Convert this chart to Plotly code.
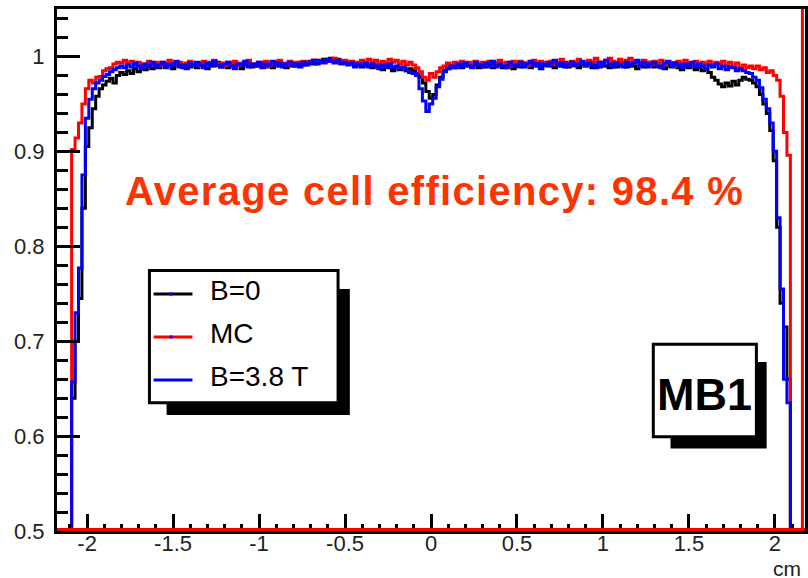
import numpy as np
import plotly.graph_objects as go

# Cell efficiency vs. distance from the wire (cm), 0.02 cm bins starting at -2.09 cm
BIN_LO = -2.09
BIN_W = 0.02

# B = 0 data
eff_b0 = [
    0.640, 0.700, 0.745, 0.840, 0.905, 0.925, 0.945, 0.958, 0.966, 0.970,
    0.974, 0.977, 0.972, 0.980, 0.983,
    0.981, 0.985, 0.982, 0.987, 0.984, 0.988, 0.986, 0.990, 0.987, 0.991,
    0.988, 0.992, 0.989, 0.991, 0.987, 0.993, 0.990, 0.988, 0.992, 0.989,
    0.991, 0.988, 0.993, 0.990, 0.987, 0.992, 0.990, 0.994, 0.989, 0.991,
    0.988, 0.993, 0.990, 0.992, 0.987, 0.991, 0.994, 0.989, 0.992, 0.990,
    0.993, 0.989, 0.991, 0.988, 0.994, 0.990, 0.992, 0.988, 0.991, 0.993,
    0.990, 0.994, 0.991, 0.993, 0.995, 0.992, 0.996, 0.994, 0.997, 0.995,
    0.998, 0.995, 0.997, 0.993, 0.995, 0.992, 0.994, 0.990, 0.993, 0.989,
    0.992, 0.990, 0.988, 0.991, 0.989, 0.986, 0.990, 0.988, 0.985, 0.989,
    0.986, 0.988, 0.985, 0.987,
    0.985, 0.982, 0.978, 0.972, 0.963, 0.956, 0.960, 0.970, 0.978, 0.985,
    0.987, 0.990, 0.988, 0.991, 0.988, 0.990, 0.993, 0.989, 0.991, 0.988,
    0.992, 0.989, 0.991, 0.988, 0.993, 0.990, 0.988, 0.992, 0.990, 0.987,
    0.991, 0.989, 0.993, 0.990, 0.988, 0.992, 0.990, 0.987, 0.991, 0.994,
    0.990, 0.988, 0.992, 0.990, 0.994, 0.989, 0.991, 0.993, 0.988, 0.992,
    0.990, 0.993, 0.988, 0.991, 0.989, 0.994, 0.990, 0.988, 0.992, 0.989,
    0.991, 0.994, 0.989, 0.992, 0.990, 0.987, 0.993, 0.989, 0.991, 0.994,
    0.989, 0.992, 0.990, 0.987, 0.991, 0.989, 0.993, 0.988, 0.986, 0.990,
    0.988, 0.991, 0.986, 0.989, 0.985, 0.987, 0.983, 0.978, 0.975, 0.971,
    0.968, 0.972, 0.969, 0.974, 0.970, 0.975,
    0.978, 0.976, 0.975, 0.972, 0.968, 0.960, 0.950, 0.940, 0.922, 0.890,
    0.820, 0.740, 0.715, 0.660,
]

# Monte Carlo
eff_mc = [
    0.902, 0.914, 0.930, 0.950, 0.966, 0.975, 0.972, 0.978, 0.979, 0.985,
    0.987, 0.988, 0.992, 0.994, 0.993,
    0.996, 0.993, 0.995, 0.991, 0.994, 0.992, 0.990, 0.995, 0.992, 0.994,
    0.990, 0.994, 0.992, 0.996, 0.993, 0.991, 0.994, 0.990, 0.993, 0.995,
    0.991, 0.993, 0.990, 0.995, 0.992, 0.994, 0.996, 0.991, 0.993, 0.990,
    0.994, 0.991, 0.995, 0.990, 0.993, 0.992, 0.996, 0.991, 0.990, 0.994,
    0.992, 0.995, 0.990, 0.994, 0.991, 0.996, 0.993, 0.991, 0.995, 0.990,
    0.994, 0.991, 0.995, 0.992, 0.994, 0.996, 0.993, 0.995, 0.994, 0.997,
    0.995, 0.998, 0.996, 0.993, 0.996, 0.992, 0.995, 0.991, 0.994, 0.996,
    0.993, 0.997, 0.994, 0.996, 0.992, 0.995, 0.993, 0.997, 0.994, 0.996,
    0.992, 0.995, 0.991, 0.994,
    0.991, 0.988, 0.984, 0.978, 0.975, 0.982, 0.978, 0.984, 0.988, 0.990,
    0.993, 0.990, 0.994, 0.991, 0.995, 0.992, 0.994, 0.990, 0.995, 0.992,
    0.994, 0.991, 0.995, 0.990, 0.993, 0.996, 0.991, 0.994, 0.990, 0.995,
    0.992, 0.995, 0.993, 0.990, 0.994, 0.996, 0.991, 0.995, 0.993, 0.991,
    0.995, 0.992, 0.994, 0.997, 0.993, 0.991, 0.995, 0.993, 0.997, 0.994,
    0.992, 0.996, 0.994, 0.998, 0.994, 0.992, 0.996, 0.998, 0.995, 0.993,
    0.997, 0.994, 0.996, 0.998, 0.995, 0.993, 0.992, 0.996, 0.994, 0.991,
    0.995, 0.992, 0.996, 0.991, 0.994, 0.993, 0.990, 0.995, 0.992, 0.996,
    0.993, 0.991, 0.995, 0.990, 0.994, 0.992, 0.995, 0.990, 0.994, 0.992,
    0.995, 0.990, 0.994, 0.989, 0.993, 0.988,
    0.991, 0.988, 0.990, 0.987, 0.990, 0.986, 0.988, 0.983, 0.985, 0.980,
    0.975, 0.958, 0.920, 0.896,
]

# B = 3.8 T data
eff_b38 = [
    0.657, 0.730, 0.777, 0.875, 0.935, 0.955, 0.966, 0.972, 0.975, 0.979,
    0.981, 0.984, 0.986, 0.988, 0.990,
    0.988, 0.991, 0.989, 0.993, 0.990, 0.987, 0.992, 0.990, 0.994, 0.989,
    0.991, 0.994, 0.988, 0.992, 0.990, 0.995, 0.989, 0.991, 0.987, 0.993,
    0.990, 0.994, 0.991, 0.988, 0.993, 0.990, 0.995, 0.991, 0.989, 0.992,
    0.994, 0.990, 0.987, 0.992, 0.991, 0.995, 0.989, 0.992, 0.990, 0.994,
    0.988, 0.992, 0.991, 0.995, 0.990, 0.993, 0.989, 0.992, 0.994, 0.990,
    0.992, 0.989, 0.994, 0.991, 0.993, 0.996, 0.992, 0.995, 0.993, 0.997,
    0.995, 0.993, 0.996, 0.992, 0.994, 0.991, 0.993, 0.989, 0.992, 0.990,
    0.993, 0.989, 0.992, 0.990, 0.987, 0.991, 0.989, 0.992, 0.988, 0.990,
    0.987, 0.989, 0.985, 0.983,
    0.982, 0.980, 0.966, 0.953, 0.942, 0.950, 0.956, 0.968, 0.976, 0.984,
    0.987, 0.990, 0.988, 0.992, 0.989, 0.993, 0.990, 0.988, 0.994, 0.991,
    0.989, 0.993, 0.990, 0.995, 0.989, 0.992, 0.990, 0.988, 0.994, 0.991,
    0.990, 0.994, 0.989, 0.992, 0.995, 0.990, 0.993, 0.988, 0.992, 0.990,
    0.993, 0.996, 0.990, 0.993, 0.989, 0.992, 0.994, 0.990, 0.992, 0.995,
    0.990, 0.993, 0.991, 0.988, 0.994, 0.990, 0.996, 0.992, 0.989, 0.993,
    0.991, 0.989, 0.994, 0.990, 0.993, 0.996, 0.990, 0.994, 0.989, 0.992,
    0.994, 0.990, 0.988, 0.993, 0.995, 0.990, 0.993, 0.991, 0.988, 0.992,
    0.990, 0.994, 0.989, 0.992, 0.990, 0.987, 0.991, 0.989, 0.992, 0.987,
    0.990, 0.986, 0.989, 0.988, 0.985, 0.987,
    0.985, 0.983, 0.982, 0.978, 0.975, 0.967, 0.955, 0.945, 0.930, 0.900,
    0.830, 0.755, 0.660, 0.635,
]

series_names = ["B=0", "MC", "B=3.8 T"]
series_colors = ["#000000", "#ff0000", "#0000ff"]

X_RANGE = [-2.175, 2.175]
Y_RANGE = [0.5, 1.05]
X_TICKS = [-2, -1.5, -1, -0.5, 0, 0.5, 1, 1.5, 2]
X_TICK_TEXT = ["-2", "-1.5", "-1", "-0.5", "0", "0.5", "1", "1.5", "2"]
Y_TICKS = [0.5, 0.6, 0.7, 0.8, 0.9, 1.0]
Y_TICK_TEXT = ["0.5", "0.6", "0.7", "0.8", "0.9", "1"]
MC_RANGE_EDGE = 2.16

title_text = "Average cell efficiency: 98.4 %"
chamber_label = "MB1"
x_unit = "cm"

n_bins = len(eff_b0)
assert len(eff_mc) == n_bins and len(eff_b38) == n_bins
edges = BIN_LO + BIN_W * np.arange(n_bins + 1)


def step_xy(vals):
    """Histogram outline; empty bins sit on the frame floor."""
    v = np.clip(np.asarray(vals, dtype=float), Y_RANGE[0], None)
    x = np.concatenate([[X_RANGE[0]], edges, [X_RANGE[1]]])
    y = np.concatenate([[Y_RANGE[0]], v, [Y_RANGE[0], Y_RANGE[0]]])
    return x, y


FONT = "Liberation Sans"
FIG_W, FIG_H = 808, 578
L, T, R, B = 57, 9, 808, 531


def fx(px):
    return (px - L) / (R - L)


def fy(py):
    return (B - py) / (B - T)


fig = go.Figure()
for vals, name, col in zip([eff_b0, eff_mc, eff_b38], series_names, series_colors):
    x, y = step_xy(vals)
    fig.add_trace(go.Scatter(
        x=x, y=y, mode="lines", name=name,
        line=dict(shape="hv", color=col, width=3),
        hoverinfo="skip", showlegend=False,
    ))

shapes = []
# MC histogram floor and upper range edge
shapes.append(dict(type="line", xref="x", yref="y domain", x0=X_RANGE[0], x1=X_RANGE[1],
                   ysizemode="pixel", yanchor=0, y0=1.5, y1=1.5,
                   line=dict(color="#ff0000", width=3), layer="above"))
shapes.append(dict(type="line", xref="x", yref="y domain", x0=MC_RANGE_EDGE, x1=MC_RANGE_EDGE,
                   y0=0, y1=1, line=dict(color="#ff0000", width=3), layer="above"))

# legend box with drop shadow
shapes.append(dict(type="rect", xref="paper", yref="paper",
                   x0=fx(167), x1=fx(351), y0=fy(415), y1=fy(289),
                   fillcolor="black", line=dict(width=0), layer="above"))
shapes.append(dict(type="rect", xref="paper", yref="paper",
                   x0=fx(149.8), x1=fx(339.2), y0=fy(402.8), y1=fy(270.5),
                   fillcolor="white", line=dict(color="black", width=3), layer="above"))
legend_rows = [294, 337, 380]
for row, col in zip(legend_rows, series_colors):
    shapes.append(dict(type="line", xref="paper", yref="paper",
                       x0=fx(154), x1=fx(193), y0=fy(row), y1=fy(row),
                       line=dict(color=col, width=3), layer="above"))
for row in legend_rows[:2]:
    shapes.append(dict(type="rect", xref="paper", yref="paper",
                       x0=fx(170), x1=fx(173), y0=fy(row + 1.5), y1=fy(row - 1.5),
                       fillcolor="#0000ff", line=dict(width=0), layer="above"))

# chamber label box with drop shadow
shapes.append(dict(type="rect", xref="paper", yref="paper",
                   x0=fx(673), x1=fx(769.5), y0=fy(448.5), y1=fy(362),
                   fillcolor="black", line=dict(width=0), layer="above"))
shapes.append(dict(type="rect", xref="paper", yref="paper",
                   x0=fx(655.7), x1=fx(759.2), y0=fy(436.8), y1=fy(344.3),
                   fillcolor="white", line=dict(color="black", width=3), layer="above"))

annotations = [
    dict(text='<span style="letter-spacing:1.3px">' + title_text + '</span>',
         xref="paper", yref="paper", x=fx(436), y=fy(191),
         xanchor="center", yanchor="middle", showarrow=False,
         font=dict(family=FONT, size=40, color="#ff3300", weight="bold")),
    dict(text=chamber_label, xref="paper", yref="paper", x=fx(707.5), y=fy(394),
         xanchor="center", yanchor="middle", showarrow=False,
         font=dict(family=FONT, size=45, color="black", weight="bold")),
    dict(text=x_unit, xref="paper", yref="paper", x=fx(805), y=fy(568),
         xanchor="right", yanchor="middle", showarrow=False, borderpad=0,
         font=dict(family=FONT, size=21, color="#222222")),
]
for row, name in zip(legend_rows, series_names):
    annotations.append(dict(text=name, xref="paper", yref="paper", x=fx(209), y=fy(row - 3.5),
                            xanchor="left", yanchor="middle", showarrow=False,
                            font=dict(family=FONT, size=28, color="black")))

axis_common = dict(showline=True, linewidth=3, linecolor="black", mirror=True,
                   ticks="inside", tickwidth=3, tickcolor="black",
                   showgrid=False, zeroline=False, tickmode="array",
                   tickfont=dict(family=FONT, size=22, color="#222222"))

fig.update_layout(
    width=FIG_W, height=FIG_H,
    margin=dict(l=L, r=FIG_W - R, t=T, b=FIG_H - B, pad=0),
    paper_bgcolor="white", plot_bgcolor="white",
    xaxis=dict(range=X_RANGE, tickvals=X_TICKS, ticktext=X_TICK_TEXT, ticklen=17,
               ticklabelstandoff=-9,
               minor=dict(ticks="inside", ticklen=7, tickwidth=3, tickcolor="black",
                          tickmode="linear", tick0=0, dtick=0.1),
               **axis_common),
    yaxis=dict(range=Y_RANGE, tickvals=Y_TICKS, ticktext=Y_TICK_TEXT, ticklen=23,
               ticklabelstandoff=5,
               minor=dict(ticks="inside", ticklen=11, tickwidth=3, tickcolor="black",
                          tickmode="linear", tick0=0.5, dtick=0.02),
               **axis_common),
    shapes=shapes,
    annotations=annotations,
    showlegend=False,
)

fig.write_html("out.html")
